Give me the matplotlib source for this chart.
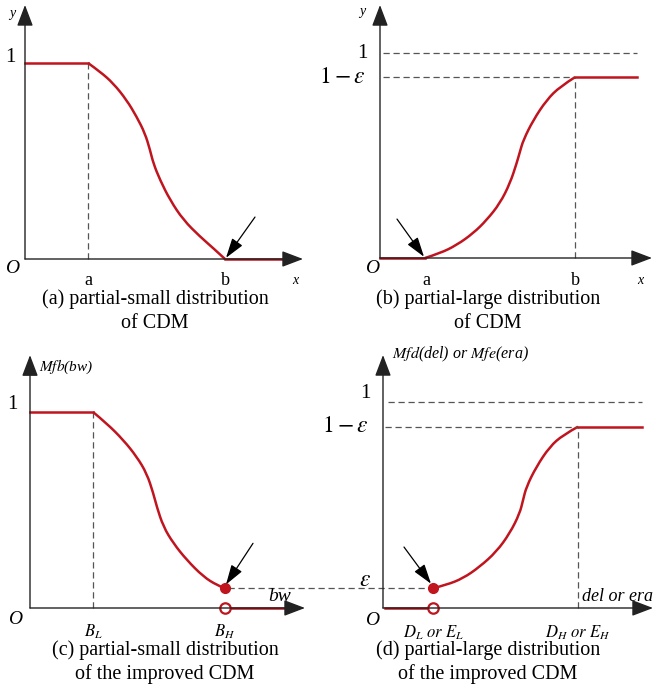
import matplotlib.pyplot as plt
from matplotlib.path import Path
from matplotlib.patches import PathPatch

plt.rcParams['font.family'] = ['Liberation Serif', 'DejaVu Serif']
plt.rcParams['mathtext.fontset'] = 'stix'

W, H = 656, 688
red = '#c0141e'
axis_col = '#222222'
dash_col = '#555555'

# curve shapes: t runs from the left break point (0) to the right one (1),
# v is the membership value read along the way
fall_t = [0, 0.088, 0.185, 0.282, 0.355, 0.416, 0.453, 0.477, 0.526, 0.599, 0.696, 0.818, 0.915, 1.0]
fall_v = [1, 0.956, 0.896, 0.811, 0.726, 0.641, 0.556, 0.488, 0.403, 0.301, 0.199, 0.114, 0.055, 0.0]

rise_t = [0, 0.1, 0.211, 0.322, 0.411, 0.5, 0.567, 0.611, 0.633, 0.656, 0.722, 0.811, 0.9, 1.0]
rise_v = [0, 0.023, 0.063, 0.121, 0.185, 0.267, 0.365, 0.462, 0.519, 0.576, 0.673, 0.771, 0.836, 0.882]

fall2_t = [0, 0.104, 0.23, 0.331, 0.407, 0.457, 0.483, 0.533, 0.609, 0.71, 0.836, 0.937, 1.0]
fall2_v = [1, 0.942, 0.857, 0.772, 0.687, 0.585, 0.517, 0.415, 0.33, 0.245, 0.16, 0.117, 0.10]

rise2_t = [0, 0.092, 0.207, 0.322, 0.437, 0.529, 0.598, 0.621, 0.644, 0.713, 0.805, 0.897, 1.0]
rise2_v = [0.096, 0.112, 0.144, 0.2, 0.273, 0.362, 0.459, 0.524, 0.588, 0.686, 0.783, 0.84, 0.88]

# break points along x for each panel
a_pts = [0.63, 2.00]      # (a)
b_pts = [0.45, 1.95]      # (b)
c_pts = [0.63, 1.95]      # (c)
d_pts = [0.50, 1.95]      # (d)
level_b = 0.882
level_d = 0.88
eps_c = 0.10

fig = plt.figure(figsize=(W / 100, H / 100), dpi=100)


def panel(ox, oy, yu, left, right, top, bottom):
    # axes whose data origin sits at pixel (ox, oy); 100 px per x unit
    ax = fig.add_axes([left / W, 1 - bottom / H, (right - left) / W, (bottom - top) / H])
    ax.set_xlim((left - ox) / 100, (right - ox) / 100)
    ax.set_ylim((oy - bottom) / yu, (oy - top) / yu)
    ax.axis('off')
    return ax


def axes_arrows(ax, xtip, ytip):
    props = dict(arrowstyle='-|>,head_length=1.0,head_width=0.38', color=axis_col,
                 lw=1.0, mutation_scale=13, shrinkA=0, shrinkB=0)
    ax.annotate('', xy=(xtip, 0), xytext=(0, 0), arrowprops=props, annotation_clip=False)
    ax.annotate('', xy=(0, ytip), xytext=(0, 0), arrowprops=props, annotation_clip=False)


def pointer(ax, start, end):
    ax.annotate('', xy=end, xytext=start, annotation_clip=False,
                arrowprops=dict(arrowstyle='-|>,head_length=1.1,head_width=0.35', color='black',
                                lw=0.9, mutation_scale=11, shrinkA=0, shrinkB=0))


def dashed(ax, xs, ys):
    ax.plot(xs, ys, color=dash_col, lw=0.9, ls=(0, (5, 3)), clip_on=False)


def curve(ax, pts, t, v):
    # quadratic bezier pieces through the midpoints, so the curve is drawn smooth
    x0, x1 = pts
    p = [(x0 + ti * (x1 - x0), vi) for ti, vi in zip(t, v)]
    verts = [p[0]]
    codes = [Path.MOVETO]
    for i in range(1, len(p) - 1):
        nxt = p[i + 1] if i == len(p) - 2 else ((p[i][0] + p[i + 1][0]) / 2, (p[i][1] + p[i + 1][1]) / 2)
        verts += [p[i], nxt]
        codes += [Path.CURVE3, Path.CURVE3]
    ax.add_patch(PathPatch(Path(verts, codes), fill=False, edgecolor=red, lw=1.8,
                           clip_on=False, capstyle='butt'))


# (a)
ax = panel(25, 259, 196, 0, 328, 0, 290)
axes_arrows(ax, 2.78, 1.296)
dashed(ax, [a_pts[0]] * 2, [0, 1])
ax.plot([0, a_pts[0]], [1, 1], color=red, lw=1.8)
curve(ax, a_pts, fall_t, fall_v)
ax.plot([a_pts[1], 2.63], [0, 0], color=red, lw=1.8, clip_on=False)
pointer(ax, (2.30, 0.214), (2.01, 0.006))
ax.text(-0.15, 1.03, '1', fontsize=15, ha='center', va='center')
ax.text(-0.13, 1.25, 'y', fontsize=10, style='italic', ha='center', va='center')
ax.text(-0.13, -0.05, 'O', fontsize=14, style='italic', ha='center', va='center')
ax.text(a_pts[0], -0.11, 'a', fontsize=13, ha='center', va='center')
ax.text(a_pts[1], -0.11, 'b', fontsize=13, ha='center', va='center')
ax.text(2.70, -0.11, 'x', fontsize=10, style='italic', ha='center', va='center')

# (b)
ax = panel(380, 258, 205, 330, 656, 0, 290)
axes_arrows(ax, 2.72, 1.234)
dashed(ax, [0.03, 2.57], [1, 1])
dashed(ax, [0.03, b_pts[1]], [level_b, level_b])
dashed(ax, [b_pts[1]] * 2, [0, level_b])
ax.plot([0, b_pts[0]], [0, 0], color=red, lw=1.8)
curve(ax, b_pts, rise_t, rise_v)
ax.plot([b_pts[1], 2.57], [level_b, level_b], color=red, lw=1.8, clip_on=False)
pointer(ax, (0.17, 0.19), (0.44, 0.006))
ax.text(-0.18, 1.0, '1', fontsize=15, ha='center', va='center')
ax.text(-0.14, level_b, r'$1-\varepsilon$', fontsize=17, ha='right', va='center')
ax.text(-0.18, 1.2, 'y', fontsize=10, style='italic', ha='center', va='center')
ax.text(-0.08, -0.05, 'O', fontsize=14, style='italic', ha='center', va='center')
ax.text(b_pts[0] + 0.01, -0.11, 'a', fontsize=13, ha='center', va='center')
ax.text(b_pts[1], -0.11, 'b', fontsize=13, ha='center', va='center')
ax.text(2.60, -0.11, 'x', fontsize=10, style='italic', ha='center', va='center')

# (c)
ax = panel(30, 608, 196, 0, 330, 345, 640)
axes_arrows(ax, 2.75, 1.29)
dashed(ax, [c_pts[0]] * 2, [0, 1])
dashed(ax, [c_pts[1] + 0.03, 4.0], [eps_c, eps_c])
ax.plot([0, c_pts[0]], [1, 1], color=red, lw=1.8)
curve(ax, c_pts, fall2_t, fall2_v)
ax.plot([c_pts[1], 2.65], [0, 0], color=red, lw=1.8, clip_on=False)
ax.plot([c_pts[1]], [eps_c], 'o', ms=7, color=red, clip_on=False)
ax.plot([c_pts[1]], [0], 'o', ms=7.5, mfc='white', mec=red, mew=1.6, clip_on=False)
pointer(ax, (2.23, 0.33), (1.96, 0.12))
ax.text(-0.18, 1.04, '1', fontsize=15, ha='center', va='center')
ax.text(0.09, 1.23, r'$Mfb$(bw)', fontsize=11, style='italic', ha='left', va='center')
ax.text(2.50, 0.057, 'bw', fontsize=14, style='italic', ha='center', va='center')
ax.text(-0.15, -0.06, 'O', fontsize=14, style='italic', ha='center', va='center')
ax.text(c_pts[0], -0.12, r'$B_L$', fontsize=12, ha='center', va='center')
ax.text(c_pts[1], -0.12, r'$B_H$', fontsize=12, ha='center', va='center')

# (d)
ax = panel(383, 608, 206, 330, 656, 345, 640)
axes_arrows(ax, 2.70, 1.228)
dashed(ax, [0.05, 2.59], [1, 1])
dashed(ax, [0.02, d_pts[1]], [level_d, level_d])
dashed(ax, [d_pts[1]] * 2, [0, level_d])
ax.plot([0.02, d_pts[0]], [0, 0], color=red, lw=1.8)
curve(ax, d_pts, rise2_t, rise2_v)
ax.plot([d_pts[1], 2.59], [level_d, level_d], color=red, lw=1.8, clip_on=False)
ax.plot([d_pts[0]], [rise2_v[0]], 'o', ms=7, color=red, clip_on=False)
ax.plot([d_pts[0]], [0], 'o', ms=7.5, mfc='white', mec=red, mew=1.6, clip_on=False)
pointer(ax, (0.21, 0.296), (0.48, 0.118))
ax.text(-0.18, 1.04, '1', fontsize=15, ha='center', va='center')
ax.text(-0.14, level_d, r'$1-\varepsilon$', fontsize=17, ha='right', va='center')
ax.text(-0.18, 0.135, r'$\varepsilon$', fontsize=17, ha='center', va='center')
ax.text(0.09, 1.23, r'$Mfd$(del) or $Mfe$(era)', fontsize=11.5, style='italic',
        ha='left', va='center')
ax.text(1.99, 0.055, 'del or era', fontsize=13, style='italic', ha='left', va='center')
ax.text(-0.11, -0.06, 'O', fontsize=14, style='italic', ha='center', va='center')
ax.text(d_pts[0], -0.12, r'$D_L\ or\ E_L$', fontsize=12, ha='center', va='center')
ax.text(d_pts[1], -0.12, r'$D_H\ or\ E_H$', fontsize=12, ha='center', va='center')

# panel captions
captions = [
    (155, 299, '(a) partial-small distribution'), (155, 323, 'of CDM'),
    (488, 299, '(b) partial-large distribution'), (488, 323, 'of CDM'),
    (165, 650, '(c) partial-small distribution'), (165, 674, 'of the improved CDM'),
    (488, 650, '(d) partial-large distribution'), (488, 674, 'of the improved CDM'),
]
for cx, cy, txt in captions:
    fig.text(cx / W, 1 - cy / H, txt, fontsize=14.5, ha='center', va='center')

fig.savefig('out.png', dpi=100)
